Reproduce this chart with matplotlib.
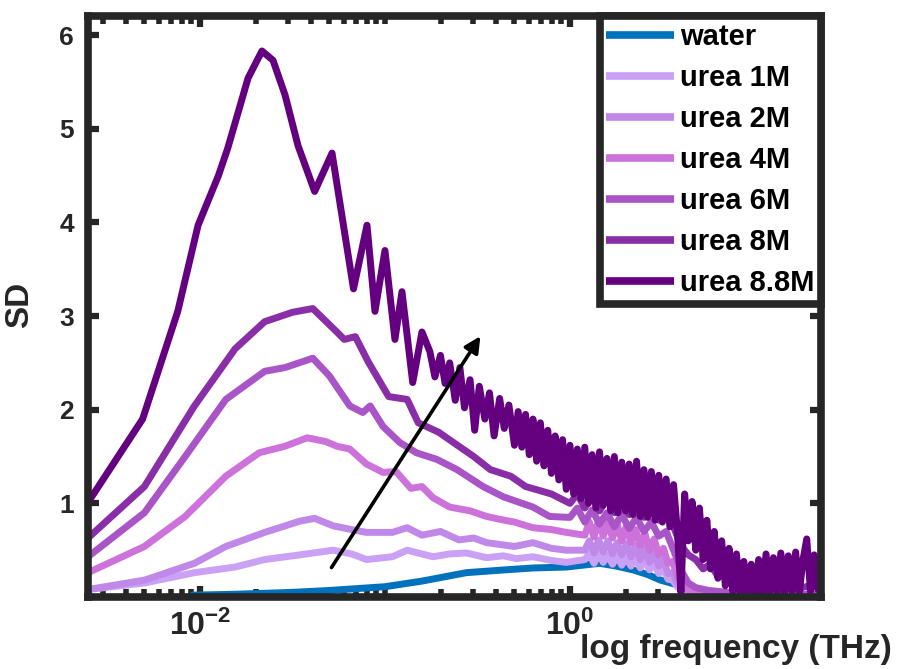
import numpy as np
import matplotlib.pyplot as plt
from matplotlib.ticker import FixedLocator, NullFormatter

plt.rcParams['font.family'] = ['Liberation Sans', 'DejaVu Sans']
plt.rcParams['font.weight'] = 'bold'
plt.rcParams['mathtext.fontset'] = 'custom'
plt.rcParams['mathtext.rm'] = 'Liberation Sans:bold'
plt.rcParams['mathtext.bf'] = 'Liberation Sans:bold'
plt.rcParams['mathtext.default'] = 'rm'

# log10 частоты (THz) и SD для каждой кривой
water_lf = [-2.04, -1.80, -1.50, -1.30, -1.00, -0.80, -0.56, -0.35, -0.20, -0.02, 0.16, 0.25,
            0.34, 0.42, 0.49, 0.58, 0.61, 0.70, 0.85, 1.00, 1.20, 1.357]
water_sd = [0.02, 0.03, 0.05, 0.07, 0.11, 0.17, 0.26, 0.29, 0.31, 0.32, 0.36, 0.33,
            0.29, 0.24, 0.18, 0.13, 0.11, 0.05, 0.03, 0.02, 0.02, 0.02]

m1_lf = [-2.605, -2.30, -2.03, -1.81, -1.65, -1.46, -1.28, -1.18, -1.10, -0.96, -0.88, -0.80,
         -0.74, -0.65, -0.56, -0.45, -0.36, -0.29, -0.20, -0.10, -0.02,
         0.08, 0.105, 0.13, 0.155, 0.18, 0.205, 0.23, 0.255, 0.28, 0.305,
         0.33, 0.355, 0.38, 0.405, 0.43, 0.455, 0.48, 0.505, 0.53, 0.555,
         0.58, 0.62, 0.66, 0.72, 0.85, 1.0, 1.2, 1.357]
m1_sd = [0.08, 0.15, 0.26, 0.32, 0.40, 0.45, 0.50, 0.46, 0.40, 0.43, 0.50, 0.46,
         0.43, 0.46, 0.47, 0.42, 0.44, 0.41, 0.43, 0.39, 0.37,
         0.40, 0.46, 0.36, 0.46, 0.37, 0.45, 0.35, 0.44, 0.34, 0.43,
         0.33, 0.42, 0.31, 0.40, 0.29, 0.36, 0.25, 0.30, 0.19, 0.18,
         0.11, 0.06, 0.04, 0.03, 0.02, 0.03, 0.02, 0.02]

m2_lf = [-2.605, -2.30, -2.03, -1.86, -1.65, -1.46, -1.38, -1.28, -1.18, -1.10, -0.96, -0.88,
         -0.80, -0.70, -0.60, -0.52, -0.45, -0.30, -0.20, -0.10, -0.02,
         0.08, 0.105, 0.13, 0.155, 0.18, 0.205, 0.23, 0.255, 0.28, 0.305,
         0.33, 0.355, 0.38, 0.405, 0.43, 0.455, 0.48, 0.505, 0.53, 0.555,
         0.58, 0.62, 0.66, 0.72, 0.85, 1.0, 1.2, 1.357]
m2_sd = [0.08, 0.18, 0.36, 0.54, 0.69, 0.81, 0.84, 0.76, 0.72, 0.69, 0.69, 0.74,
         0.66, 0.70, 0.61, 0.63, 0.58, 0.54, 0.58, 0.52, 0.50,
         0.50, 0.60, 0.47, 0.61, 0.48, 0.60, 0.46, 0.58, 0.45, 0.57,
         0.43, 0.55, 0.40, 0.52, 0.37, 0.47, 0.33, 0.40, 0.25, 0.26,
         0.15, 0.08, 0.05, 0.04, 0.03, 0.03, 0.02, 0.02]

m4_lf = [-2.605, -2.30, -2.08, -1.86, -1.68, -1.54, -1.42, -1.32, -1.26, -1.19, -1.10, -1.01,
         -0.94, -0.86, -0.80, -0.74, -0.65, -0.54, -0.45, -0.38, -0.30, -0.20, -0.10, -0.02,
         0.08, 0.105, 0.13, 0.155, 0.18, 0.205, 0.23, 0.255, 0.28, 0.305,
         0.33, 0.355, 0.38, 0.405, 0.43, 0.455, 0.48, 0.505, 0.53, 0.555,
         0.58, 0.60, 0.64, 0.70, 0.85, 1.0, 1.2, 1.357]
m4_sd = [0.26, 0.54, 0.86, 1.29, 1.54, 1.61, 1.70, 1.66, 1.61, 1.58, 1.42, 1.33,
         1.34, 1.16, 1.18, 1.06, 0.96, 0.92, 0.86, 0.83, 0.80, 0.74, 0.72, 0.69,
         0.66, 0.80, 0.64, 0.82, 0.65, 0.80, 0.63, 0.78, 0.60, 0.76,
         0.58, 0.72, 0.55, 0.68, 0.50, 0.62, 0.45, 0.52, 0.36, 0.38,
         0.22, 0.15, 0.08, 0.05, 0.03, 0.03, 0.02, 0.02]

m6_lf = [-2.605, -2.30, -2.08, -1.86, -1.65, -1.54, -1.39, -1.30, -1.19, -1.12, -1.08, -1.01,
         -0.92, -0.83, -0.72, -0.61, -0.47, -0.36, -0.20, -0.11,
         0.0, 0.04, 0.08, 0.12, 0.16, 0.20, 0.24, 0.28, 0.32, 0.36,
         0.40, 0.44, 0.48, 0.52, 0.55, 0.58, 0.61, 0.64, 0.68, 0.75, 0.85, 1.0, 1.2, 1.357]
m6_sd = [0.43, 0.90, 1.50, 2.11, 2.41, 2.45, 2.55, 2.36, 2.04, 1.97, 2.04, 1.82,
         1.65, 1.54, 1.47, 1.36, 1.18, 1.07, 0.96, 0.86,
         0.85, 0.95, 0.80, 0.93, 0.78, 0.90, 0.75, 0.88, 0.73, 0.85,
         0.70, 0.80, 0.65, 0.70, 0.55, 0.40, 0.25, 0.15, 0.10, 0.07, 0.05, 0.04, 0.03, 0.03]

m8_lf = [-2.605, -2.30, -2.03, -1.81, -1.65, -1.50, -1.39, -1.26, -1.22, -1.16, -1.09, -0.98,
         -0.88, -0.82, -0.71, -0.63, -0.52, -0.43, -0.32, -0.24, -0.10,
         0.0, 0.04, 0.08, 0.12, 0.16, 0.20, 0.24, 0.28, 0.32, 0.36,
         0.40, 0.44, 0.48, 0.52, 0.56, 0.60, 0.64, 0.68, 0.72, 0.76,
         0.80, 0.85, 0.90, 0.95, 1.0, 1.1, 1.2, 1.3, 1.357]
m8_sd = [0.63, 1.18, 2.04, 2.65, 2.94, 3.04, 3.08, 2.83, 2.75, 2.78, 2.51, 2.14,
         2.11, 1.86, 1.76, 1.65, 1.50, 1.36, 1.29, 1.18, 1.10,
         1.00, 1.10, 0.95, 1.08, 0.92, 1.05, 0.90, 1.02, 0.88, 0.98,
         0.85, 0.95, 0.82, 0.88, 0.75, 0.55, 0.45, 0.40, 0.30, 0.35,
         0.22, 0.28, 0.15, 0.22, 0.10, 0.18, 0.08, 0.12, 0.10]

m88_lf = [-2.605, -2.31, -2.12, -2.01, -1.90, -1.85, -1.74, -1.665, -1.605, -1.54, -1.47, -1.38,
          -1.286, -1.17, -1.097, -1.054, -1.0, -0.946, -0.908, -0.85, -0.80,
          -0.757, -0.73, -0.70, -0.675, -0.65, -0.62, -0.595, -0.57, -0.54, -0.515,
          -0.49, -0.46, -0.435, -0.41, -0.38, -0.355, -0.33, -0.30,
          -0.28, -0.26, -0.24, -0.22, -0.20, -0.18, -0.16, -0.14, -0.12, -0.10,
          -0.08, -0.06, -0.04, -0.02, 0.00, 0.02, 0.04, 0.06, 0.08, 0.10,
          0.12, 0.14, 0.16, 0.18, 0.20, 0.22, 0.24, 0.26, 0.28, 0.30,
          0.32, 0.34, 0.36, 0.38, 0.40, 0.42, 0.44, 0.46, 0.48, 0.50,
          0.52, 0.54, 0.56, 0.58, 0.60, 0.62, 0.64, 0.66, 0.68, 0.70,
          0.72, 0.74, 0.76, 0.78, 0.80, 0.82, 0.84, 0.86, 0.88, 0.90,
          0.92, 0.94, 0.96, 0.98, 1.00, 1.02, 1.04, 1.06, 1.08, 1.10,
          1.12, 1.14, 1.16, 1.18, 1.20, 1.22, 1.24, 1.26, 1.28, 1.30,
          1.32, 1.34, 1.357]
m88_sd = [1.01, 1.90, 3.05, 3.97, 4.50, 4.79, 5.54, 5.83, 5.73, 5.36, 4.82, 4.33,
          4.74, 3.29, 3.97, 3.05, 3.70, 2.75, 3.26, 2.29, 2.83,
          2.62, 2.35, 2.58, 2.28, 2.50, 2.10, 2.45, 2.02, 2.32, 1.78,
          2.25, 1.90, 2.18, 1.72, 2.12, 1.80, 2.05, 1.62,
          1.98, 1.60, 1.95, 1.52, 1.90, 1.45, 1.86, 1.40, 1.78, 1.32,
          1.72, 1.25, 1.68, 1.15, 1.62, 1.10, 1.58, 1.05, 1.60, 1.00,
          1.52, 0.95, 1.55, 0.98, 1.48, 0.92, 1.50, 0.90, 1.44, 0.92,
          1.42, 0.88, 1.45, 0.86, 1.36, 0.85, 1.34, 0.82, 1.30, 0.80,
          1.26, 0.75, 1.20, 0.72, 0.05, 1.10, 0.60, 1.02, 0.50, 0.95,
          0.40, 0.82, 0.30, 0.70, 0.20, 0.60, 0.12, 0.52, 0.06, 0.46,
          0.04, 0.38, 0.03, 0.35, 0.04, 0.40, 0.03, 0.46, 0.04, 0.42,
          0.05, 0.47, 0.04, 0.44, 0.06, 0.48, 0.05, 0.40, 0.62, 0.06,
          0.45, 0.08, 0.20]

labels = ['water', 'urea 1M', 'urea 2M', 'urea 4M', 'urea 6M', 'urea 8M', 'urea 8.8M']
colors = ['#0072BD', '#CBA1F5', '#BF88E9', '#CD72DB', '#A955C8', '#8A2EA8', '#64007F']
series = [(water_lf, water_sd), (m1_lf, m1_sd), (m2_lf, m2_sd), (m4_lf, m4_sd),
          (m6_lf, m6_sd), (m8_lf, m8_sd), (m88_lf, m88_sd)]

dark = '#262626'

fig = plt.figure(figsize=(9.01, 6.69), dpi=100)
ax = fig.add_axes([0.0977, 0.1076, 0.8135, 0.868])

for (lf, sd), lab, col in zip(series, labels, colors):
    ax.plot(10 ** np.array(lf), sd, color=col, lw=5, label=lab,
            solid_joinstyle='round', solid_capstyle='round')

ax.set_xscale('log')
ax.set_xlim(10 ** -2.605, 10 ** 1.357)
ax.set_ylim(0, 6.2)

ax.xaxis.set_major_locator(FixedLocator([1e-2, 1e0]))
ax.set_xticklabels(['$10^{-2}$', '$10^{0}$'])
minor = [k * 10.0 ** d for d in range(-3, 2) for k in range(1, 10)]
minor = [m for m in minor if m not in (1e-2, 1e0)]
ax.xaxis.set_minor_locator(FixedLocator(minor))
ax.xaxis.set_minor_formatter(NullFormatter())
ax.set_yticks([1, 2, 3, 4, 5, 6])

ax.tick_params(which='both', direction='in', top=True, right=True, color=dark,
               labelcolor=dark)
ax.tick_params(which='major', length=8, width=4.5)
ax.tick_params(which='minor', length=6, width=4)
ax.tick_params(axis='x', which='major', labelsize=23, pad=10)
ax.tick_params(axis='y', which='major', labelsize=19, pad=10)

for sp in ax.spines.values():
    sp.set_linewidth(5.5)
    sp.set_color(dark)

ax.set_xlabel('log frequency (THz)', fontsize=24, fontweight='bold', color=dark)
ax.xaxis.set_label_coords(0.671, -0.064)
ax.xaxis.label.set_horizontalalignment('left')
ax.set_ylabel('SD', fontsize=24, fontweight='bold', color=dark)
ax.yaxis.set_label_coords(-0.072, 0.503)

# стрелка: рост концентрации мочевины
ax.annotate('', xy=(10 ** -0.476, 2.81), xytext=(10 ** -1.297, 0.29),
            arrowprops=dict(arrowstyle='-|>', lw=2.6, color='black', mutation_scale=24))

leg = ax.legend(loc='upper right', bbox_to_anchor=(1, 1), borderaxespad=0,
                fontsize=21, handlelength=2.33, handletextpad=0.2, labelspacing=0.45,
                borderpad=0.22, fancybox=False, framealpha=1, edgecolor=dark)
leg.get_frame().set_linewidth(5.5)
for line in leg.get_lines():
    line.set_linewidth(5.5)
    line.set_solid_capstyle('butt')

fig.savefig('out.png', dpi=100)
